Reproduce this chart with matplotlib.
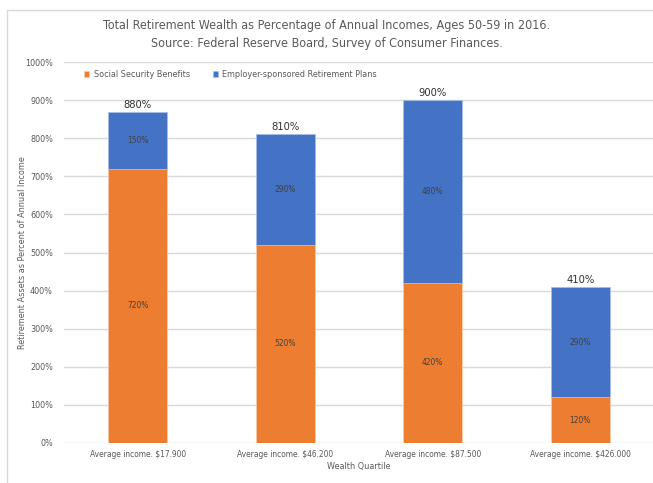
import numpy as np
import matplotlib.pyplot as plt
from matplotlib.patches import Rectangle

categories = ["Average income. $17.900", "Average income. $46.200",
              "Average income. $87.500", "Average income. $426.000"]
social_security = [720, 520, 420, 120]
employer_plans = [150, 290, 480, 290]
total_labels = ["880%", "810%", "900%", "410%"]
yticks = [0, 100, 200, 300, 400, 500, 600, 700, 800, 900, 1000]

orange = "#ED7D31"
blue = "#4472C4"
grey = "#595959"

plt.rcParams['font.family'] = ['DejaVu Sans']
plt.rcParams['font.stretch'] = 'condensed'

fig = plt.figure(figsize=(6.53, 4.83), dpi=100)
W, H = 653, 483

# outer chart frame (runs off the right/bottom edges in the original)
fig.patches.append(Rectangle((7 / W, -0.05), 1.2, 1 - 10 / H + 0.05,
                             transform=fig.transFigure, fill=False,
                             edgecolor="#d9d9d9", linewidth=1.0))

ax = fig.add_axes([64 / W, (H - 443) / H, (654 - 64) / W, (443 - 62) / H])

x = np.arange(len(categories))
width = 0.4
ax.bar(x, social_security, width, color=orange, edgecolor="#f6c9a8",
       linewidth=0.6, label="Social Security Benefits", zorder=3)
ax.bar(x, employer_plans, width, bottom=social_security, color=blue,
       edgecolor="#a9bde6", linewidth=0.6,
       label="Employer-sponsored Retirement Plans", zorder=3)

for i in range(len(categories)):
    ax.text(x[i], social_security[i] / 2, f"{social_security[i]}%",
            ha="center", va="center", fontsize=6, color="#404040", zorder=4)
    ax.text(x[i], social_security[i] + employer_plans[i] / 2,
            f"{employer_plans[i]}%", ha="center", va="center", fontsize=6,
            color="#404040", zorder=4)
    ax.text(x[i], social_security[i] + employer_plans[i] + 5, total_labels[i],
            ha="center", va="bottom", fontsize=8, color="#303030", zorder=4)

ax.set_xlim(-0.5, len(categories) - 0.5)
ax.set_ylim(0, 1000)
ax.set_yticks(yticks)
ax.set_yticklabels([f"{v}%" for v in yticks])
ax.set_xticks(x)
ax.set_xticklabels(categories)
ax.tick_params(axis="both", length=0, labelsize=6, labelcolor=grey)
ax.tick_params(axis="y", pad=8, labelsize=6.5)
ax.tick_params(axis="x", pad=5)
ax.grid(axis="y", color="#d9d9d9", linewidth=1.0, zorder=0)
for s in ax.spines.values():
    s.set_visible(False)

ax.set_xlabel("Wealth Quartile", fontsize=6.5, color=grey, labelpad=2)
ax.set_ylabel("Retirement Assets as Percent of Annual Income", fontsize=6.5,
              color=grey)
ax.yaxis.set_label_coords(-0.063, 0.5)

leg = ax.legend(loc="upper left", bbox_to_anchor=(0.02, 1.0), ncol=2,
                frameon=False, fontsize=6.5, handlelength=0.6, handleheight=0.6,
                handletextpad=0.5, columnspacing=2.5)
for t in leg.get_texts():
    t.set_color(grey)

fig.text(0.5, 1 - 26 / H, "Total Retirement Wealth as Percentage of Annual Incomes, Ages 50-59 in 2016.",
         ha="center", va="center", fontsize=9, color=grey)
fig.text(0.5, 1 - 43 / H, "Source: Federal Reserve Board, Survey of Consumer Finances.",
         ha="center", va="center", fontsize=9, color=grey)

fig.savefig("out.png", dpi=100)
